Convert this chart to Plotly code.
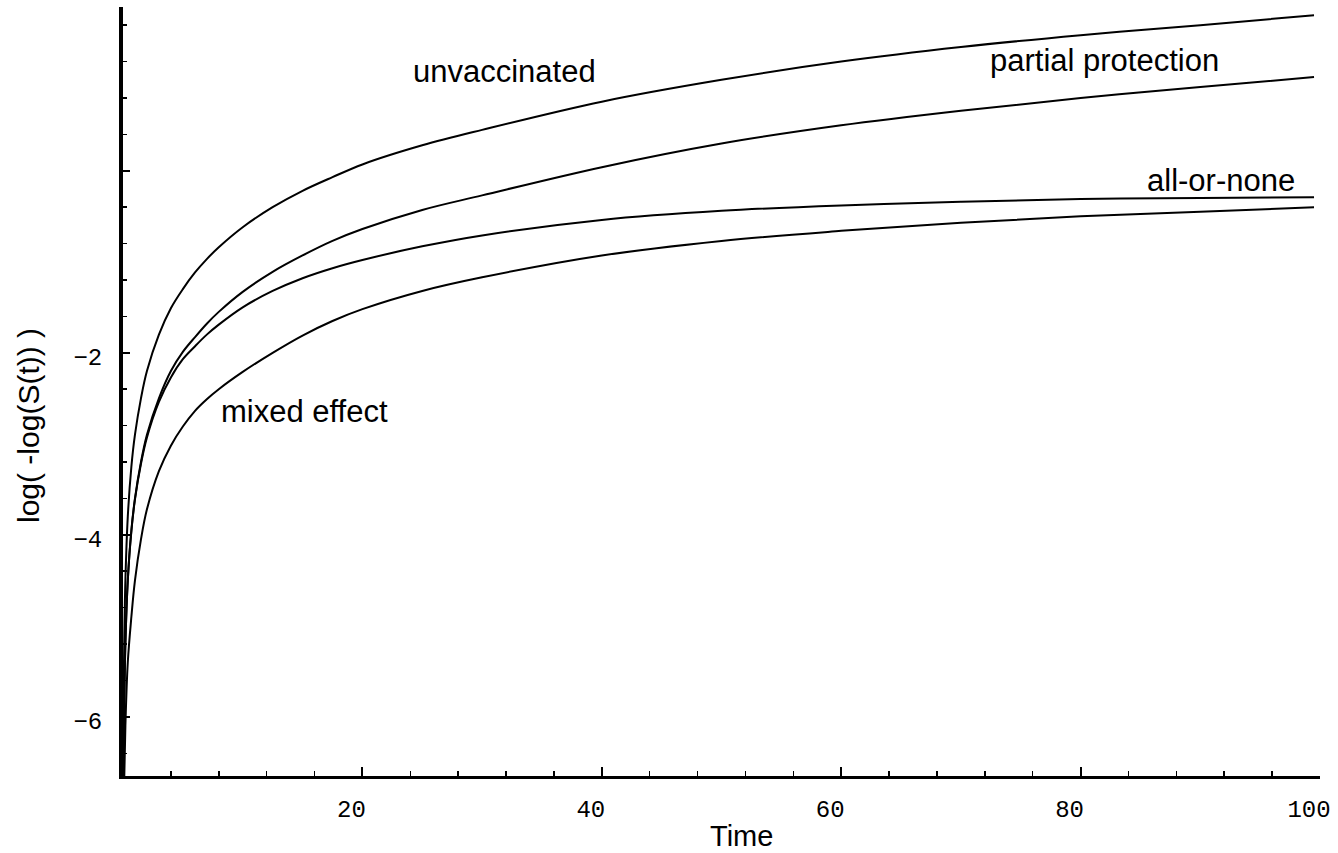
import plotly.graph_objects as go

# Time points
time = [0.025, 0.05, 0.1, 0.2, 0.4, 0.7, 1, 1.5, 2, 3, 4, 5, 6, 7, 8, 10, 12.5, 15,
        17.5, 20, 25, 30, 40, 50, 60, 70, 80, 90, 99.5]

unvaccinated = [-6.6, -5.9, -5.2, -4.5, -3.8, -3.25, -2.9, -2.5, -2.2, -1.8, -1.51,
                -1.3, -1.12, -0.97, -0.84, -0.62, -0.4, -0.22, -0.07, 0.07, 0.28,
                0.45, 0.76, 1.0, 1.2, 1.36, 1.49, 1.6, 1.71]

partial_protection = [-7.2, -6.6, -5.9, -5.2, -4.5, -3.95, -3.6, -3.2, -2.9, -2.5,
                      -2.2, -1.99, -1.83, -1.68, -1.55, -1.33, -1.11, -0.93, -0.77,
                      -0.64, -0.43, -0.27, 0.04, 0.3, 0.5, 0.66, 0.8, 0.92, 1.03]

all_or_none = [-7.2, -6.6, -5.9, -5.2, -4.5, -3.96, -3.61, -3.22, -2.93, -2.54,
               -2.27, -2.07, -1.93, -1.8, -1.69, -1.5, -1.32, -1.18, -1.07, -0.98,
               -0.83, -0.71, -0.54, -0.44, -0.38, -0.34, -0.31, -0.3, -0.29]

mixed_effect = [-7.6, -7.2, -6.7, -6.1, -5.4, -4.9, -4.5, -4.05, -3.72, -3.3,
                -3.02, -2.81, -2.64, -2.51, -2.4, -2.21, -2.0, -1.81, -1.65, -1.52,
                -1.32, -1.17, -0.93, -0.77, -0.66, -0.57, -0.5, -0.45, -0.4]

x_tick_vals = [20, 40, 60, 80, 100]
x_tick_text = ["20", "40", "60", "80", "100"]
y_tick_vals = [-6, -4, -2, 0]
y_tick_text = ["\u22126", "\u22124", "\u22122", ""]

series = [
    ("unvaccinated", unvaccinated),
    ("partial protection", partial_protection),
    ("all-or-none", all_or_none),
    ("mixed effect", mixed_effect),
]

# curve labels (data coordinates)
labels = [
    ("unvaccinated", 31.9, 1.09),
    ("partial protection", 82.0, 1.21),
    ("all-or-none", 91.7, -0.11),
    ("mixed effect", 15.2, -2.64),
]

SANS = "Liberation Sans, Arial, sans-serif"
MONO = "Liberation Mono, Courier New, monospace"

fig = go.Figure()
for name, ys in series:
    fig.add_trace(go.Scatter(
        x=time, y=ys, mode="lines", name=name,
        line=dict(color="black", width=2, shape="spline", smoothing=1.0),
        showlegend=False, hoverinfo="skip",
    ))

for text, lx, ly in labels:
    fig.add_annotation(
        x=lx, y=ly, xref="x", yref="y", text=text, showarrow=False,
        font=dict(family=SANS, size=31, color="black"),
        xanchor="center", yanchor="middle",
    )

# axis titles
fig.add_annotation(
    x=0.517, y=-0.078, xref="paper", yref="paper", text="Time", showarrow=False,
    font=dict(family=SANS, size=29, color="black"), xanchor="center", yanchor="middle",
)
fig.add_annotation(
    x=-0.0794, y=0.4564, xref="paper", yref="paper", text="log( -log(S(t)) )",
    showarrow=False, textangle=-90,
    font=dict(family=SANS, size=30, color="black"), xanchor="center", yanchor="middle",
)

fig.update_layout(
    width=1338, height=853,
    margin=dict(l=123, r=18, t=7, b=77),
    paper_bgcolor="white", plot_bgcolor="white",
    showlegend=False,
)

fig.update_xaxes(
    range=[0, 100],
    showgrid=False, zeroline=False,
    showline=True, linecolor="black", linewidth=3,
    ticks="inside", ticklen=9, tickwidth=2, tickcolor="black",
    tickvals=x_tick_vals, ticktext=x_tick_text,
    tickfont=dict(family=MONO, size=24, color="black"),
    ticklabelstandoff=9, ticklabelshift=-11,
    minor=dict(dtick=4, tick0=0, ticks="inside", ticklen=5, tickwidth=1.5, tickcolor="black"),
)

fig.update_yaxes(
    range=[-6.65, 1.80],
    showgrid=False, zeroline=False,
    showline=True, linecolor="black", linewidth=4,
    ticks="inside", ticklen=7, tickwidth=2, tickcolor="black",
    tickvals=y_tick_vals, ticktext=y_tick_text,
    tickfont=dict(family=MONO, size=24, color="black"),
    ticklabelstandoff=12, ticklabelshift=4,
    minor=dict(dtick=0.4, tick0=0, ticks="inside", ticklen=4, tickwidth=1.5, tickcolor="black"),
)

fig.write_html(
    "out.html",
    config={"displayModeBar": False, "staticPlot": True},
    post_script="document.body.style.margin='0';document.body.style.overflow='hidden';",
)
